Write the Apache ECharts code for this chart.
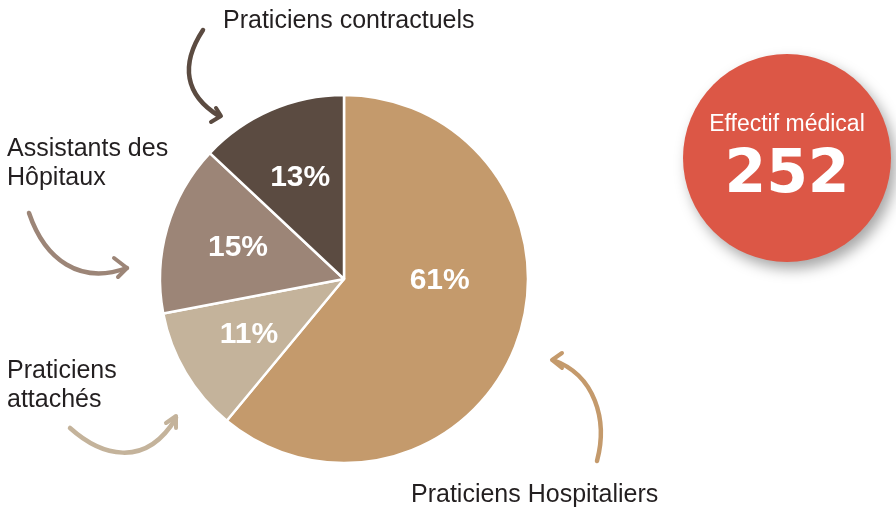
<!DOCTYPE html>
<html>
<head>
<meta charset="utf-8">
<script src="https://cdn.jsdelivr.net/npm/echarts@6/dist/echarts.min.js"></script>
<style>
  html, body { margin: 0; padding: 0; background: #fff; }
  #pie { width: 896px; height: 509px; }
</style>
</head>
<body>
<div id="pie"></div>
<script>
const categories = ["Praticiens Hospitaliers", "Praticiens attachés", "Assistants des Hôpitaux", "Praticiens contractuels"];
const shares = [61, 11, 15, 13];
const totalStaff = 252;

const colors = ["#C49A6C", "#C4B39B", "#9C8577", "#5B4B41"];
const center = [344, 279];
const radius = 184;

const myChart = echarts.init(document.getElementById("pie"));

// angle (deg, clockwise from top) at the middle of each slice
const sum = shares.reduce((a, b) => a + b, 0);
let acc = 0;
const midAngles = shares.map(v => {
  const m = (acc + v / 2) / sum * 360;
  acc += v;
  return m;
});

const labelPos = i => {
  let a = midAngles[i];
  let k = 0.6;
  if (i === 0) { a = 91; k = 0.52; } // big slice label sits higher
  const rad = a * Math.PI / 180;
  return { x: center[0] + Math.sin(rad) * radius * k, y: center[1] - Math.cos(rad) * radius * k };
};

const textStyle = { fill: "#231f20", fontSize: 25, fontFamily: "Liberation Sans, Arial, sans-serif", lineHeight: 29 };

const arrow = (pts, head, color) => [
  {
    type: "bezierCurve",
    shape: { x1: pts[0], y1: pts[1], cpx1: pts[2], cpy1: pts[3], cpx2: pts[4], cpy2: pts[5], x2: pts[6], y2: pts[7] },
    style: { stroke: color, lineWidth: 4.5, fill: null, lineCap: "round" },
    silent: true
  },
  {
    type: "polyline",
    shape: { points: head },
    style: { stroke: color, lineWidth: 4, fill: null, lineCap: "round", lineJoin: "round" },
    silent: true
  }
];

let option = {
  animation: false,
  series: [
    {
      type: "pie",
      center: center,
      radius: radius,
      startAngle: 90,
      clockwise: true,
      data: categories.map((name, i) => ({ name, value: shares[i], itemStyle: { color: colors[i] } })),
      itemStyle: { borderColor: "#fff", borderWidth: 2.5 },
      label: {
        show: true,
        position: "inside",
        formatter: p => p.value + "%",
        color: "#fff",
        fontSize: 30,
        fontWeight: "bold",
        fontFamily: "Liberation Sans, Arial, sans-serif"
      },
      labelLayout: p => labelPos(p.dataIndex),
      labelLine: { show: false },
      emphasis: { disabled: true }
    }
  ],
  graphic: [
    { type: "text", left: 223, top: 7, style: Object.assign({ text: categories[3] }, textStyle) },
    { type: "text", left: 7, top: 135, style: Object.assign({ text: "Assistants des\nHôpitaux" }, textStyle) },
    { type: "text", left: 7, top: 357, style: Object.assign({ text: "Praticiens\nattachés" }, textStyle) },
    { type: "text", left: 411, top: 481, style: Object.assign({ text: categories[0] }, textStyle) },
    ...arrow([203, 30, 180, 65, 185, 95, 219, 116], [[211, 122], [221, 116], [216, 108]], colors[3]),
    ...arrow([29, 213, 45, 260, 80, 285, 127, 268], [[114, 258], [127, 268], [118, 277]], colors[2]),
    ...arrow([70, 428, 100, 455, 145, 470, 176, 418], [[166, 423], [176, 416], [176, 428]], colors[1]),
    ...arrow([597, 461, 608, 420, 595, 375, 553, 360], [[562, 353], [552, 360], [562, 368]], colors[0]),
    {
      type: "circle",
      shape: { cx: 787, cy: 158, r: 104 },
      style: { fill: "#DC5746", shadowBlur: 14, shadowColor: "rgba(0,0,0,0.35)", shadowOffsetX: 5, shadowOffsetY: 7 },
      silent: true
    },
    {
      type: "text",
      x: 787, y: 125,
      style: { text: "Effectif médical", fill: "#fff", fontSize: 23, fontFamily: "Liberation Sans, Arial, sans-serif", align: "center", verticalAlign: "middle" }
    },
    {
      type: "text",
      x: 787, y: 176,
      style: { text: String(totalStaff), fill: "#fff", fontSize: 60, fontWeight: "bold", fontFamily: "DejaVu Sans, sans-serif", align: "center", verticalAlign: "middle" }
    }
  ]
};
myChart.setOption(option);
</script>
</body>
</html>
